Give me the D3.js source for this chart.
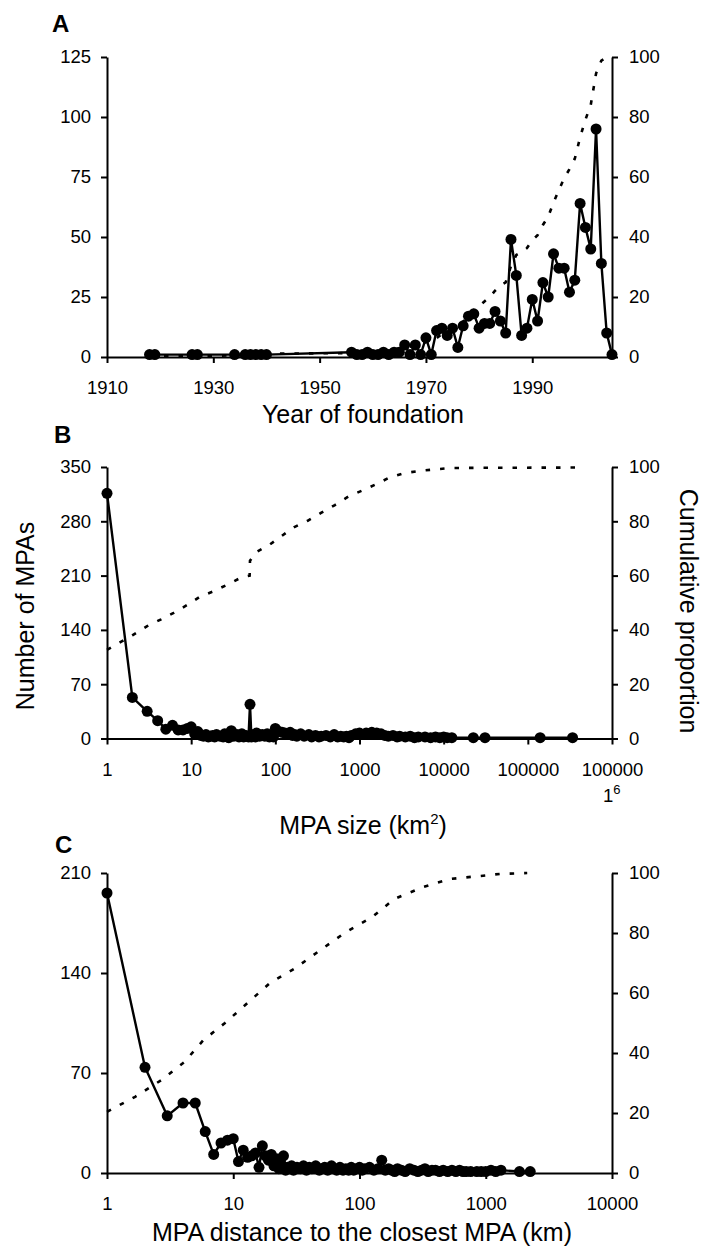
<!DOCTYPE html>
<meta charset="utf-8">
<style>
body { margin: 0; background: #fff; }
svg { font-family: "Liberation Sans", Arial, sans-serif; }
.axis { font-family: "Liberation Sans", Arial, sans-serif; }
.axis path, .axis line { stroke: #000; stroke-width: 2px; }
.axis text { font-size: 18.5px; fill: #000; }
.title { font-size: 25px; fill: #000; }
.letter { font-size: 24px; font-weight: bold; fill: #000; }
.count { fill: none; stroke: #000; stroke-width: 2.4px; stroke-linejoin: round; }
.cum { fill: none; stroke: #000; stroke-width: 2.6px; stroke-dasharray: 4.5 10; }
.dot { fill: #000; }
</style>
<body>
<script src="https://cdnjs.cloudflare.com/ajax/libs/d3/7.8.5/d3.min.js"></script>
<script>

// ---- panel A: year of foundation ----
var yearA = [1918,1919,1926,1927,1934,1936,1937,1938,1939,1940,
  1956,1957,1958,1959,1960,1961,1962,1963,1964,1965,
  1966,1967,1968,1969,1970,1971,1972,1973,1974,1975,
  1976,1977,1978,1979,1980,1981,1982,1983,1984,1985,
  1986,1987,1988,1989,1990,1991,1992,1993,1994,1995,
  1996,1997,1998,1999,2000,2001,2002,2003,2004,2005];
var countA = [1,1,1,1,1,1,1,1,1,1,
  2,1,1,2,1,1,2,1,2,2,
  5,1,5,1,8,1,11,12,9,12,
  4,13,17,18,12,14,14,19,15,10,
  49,34,9,12,24,15,31,25,43,37,
  37,27,32,64,54,45,95,39,10,1];
var cumA = [0.1,0.2,0.3,0.4,0.5,0.7,0.8,0.9,1.0,1.1,
  1.3,1.4,1.5,1.8,1.9,2.0,2.2,2.3,2.5,2.8,
  3.3,3.4,4.0,4.1,5.0,5.1,6.3,7.6,8.6,9.9,
  10.3,11.8,13.6,15.6,16.9,18.5,20.0,22.1,23.8,24.9,
  30.3,34.0,35.0,36.3,38.9,40.6,44.0,46.8,51.5,55.6,
  59.6,62.6,66.1,73.2,79.1,84.0,94.5,98.8,99.9,100];
var tickYearA = [1910,1930,1950,1970,1990];
var tickLeftA = [0,25,50,75,100,125];

// ---- panel B: MPA size ----
var sizeB = [1,2,3,4,5,6,7,8,9,10,11,12,13,14,15,16,17,18,19,20,
  22,24,25,27,28,30,32,35,37,40,42,45,48,50,52,55,58,60,65,70,
  75,80,85,90,95,100,110,120,130,140,150,160,170,180,200,220,250,270,300,330,
  350,400,450,500,550,600,650,700,750,800,900,1000,1100,1200,1300,1400,1500,1600,1700,1800,
  2000,2200,2500,2800,3000,3500,4000,4500,5000,6000,7000,8000,9000,10000,11000,12500,
  22500,31000,140000,340000];
var countB = [316,53,35,23,12,17,11,11,13,15,6,9,4,3,5,2,3,4,2,5,
  3,2,6,2,1,10,3,5,2,6,2,4,2,44,2,5,2,7,3,5,
  3,6,2,4,2,13,9,8,7,6,8,4,5,3,6,3,5,2,4,2,
  3,4,2,5,2,3,2,3,1,4,6,7,5,7,6,8,6,7,5,6,
  4,3,4,2,3,2,3,1,2,2,1,2,1,2,1,1,
  1,1,1,1];
var cumSizeB = [1,2,3,4.4,6.2,9,12.7,18.7,27.4,40,49.5,50,59,84.5,119,166,242,353,510,735,
  1110,1590,2300,3380,5240,7900,11700,25000,380000];
var cumB = [32.6,38,41.4,43.9,46.3,49.2,52.2,54.3,56.8,59.4,60,65.5,68.6,71.3,74.6,77.8,80.2,83.2,86,89.1,
  91.5,93.7,96.2,97.7,98.6,99.1,99.6,99.7,99.8];
var tickSizeB = [1,10,100,1000,10000,100000,1000000];
var tickLabelB = ["1","10","100","1000","10000","100000","100000"];
var tickLeftB = [0,70,140,210,280,350];

// ---- panel C: distance to closest MPA ----
var distC = [1,2,3,4,5,6,7,8,9,10,11,12,13,14,15,16,17,18,19,20,
  21,22,23,24,25,26,27,28,29,30,32,34,36,38,40,42,45,48,50,53,
  56,60,63,66,70,74,78,82,86,90,95,100,105,110,120,130,140,150,160,170,
  180,190,200,215,230,250,270,290,310,330,350,375,400,430,460,500,540,580,620,660,
  700,760,850,920,1000,1100,1200,1320,1850,2250];
var countC = [196,74,40,49,49,29,13,21,23,24,8,16,11,12,14,4,19,12,9,13,
  5,10,3,6,12,2,4,3,5,2,4,3,5,2,4,3,5,2,3,4,
  2,5,3,2,4,2,3,2,4,2,3,4,2,3,4,2,3,9,2,3,
  2,1,3,2,1,3,2,1,2,3,1,2,2,1,2,1,2,1,2,1,
  1,1,1,1,1,2,1,2,1,1];
var cumDistC = [1,1.67,2.7,4.1,5.8,8.6,13,19.5,31,49,78,126,188,318,520,900,1300,2130];
var cumC = [20.4,25.4,31,37,44.3,50,56.7,63.3,68.3,74.3,80.3,85.3,91.3,95.3,98,99,99.7,100];
var tickDistC = [1,10,100,1000,10000];
var tickLeftC = [0,70,140,210];

var tickRight = [0,20,40,60,80,100];

var width = 702, height = 1249;
var xRange = [107, 612];

var svg = d3.select("body").append("svg")
    .attr("width", width)
    .attr("height", height);

function drawPanel(o) {
    var x = o.log ? d3.scaleLog().domain(o.xDomain).range(xRange)
                  : d3.scaleLinear().domain(o.xDomain).range(xRange);
    var yL = d3.scaleLinear().domain([0, o.yMax]).range(o.yRange);
    var yR = d3.scaleLinear().domain([0, 100]).range(o.yRange);

    // axes
    svg.append("g").attr("class", "axis")
        .attr("transform", "translate(0," + o.yRange[0] + ")")
        .call(d3.axisBottom(x).tickValues(o.xTicks)
            .tickFormat(function(d, i) { return o.xLabels[i]; })
            .tickSize(6).tickSizeOuter(0).tickPadding(18));
    svg.append("g").attr("class", "axis")
        .attr("transform", "translate(" + xRange[0] + ",0)")
        .call(d3.axisLeft(yL).tickValues(o.yTicks)
            .tickSize(6).tickSizeOuter(0).tickPadding(10));
    svg.append("g").attr("class", "axis")
        .attr("transform", "translate(" + xRange[1] + ",0)")
        .call(d3.axisRight(yR).tickValues(tickRight)
            .tickSize(6).tickSizeOuter(0).tickPadding(11));

    // cumulative proportion, dotted
    var cumLine = d3.line()
        .x(function(d) { return x(d[0]); })
        .y(function(d) { return yR(d[1]); });
    svg.append("path").attr("class", "cum")
        .attr("d", cumLine(d3.zip(o.cumX, o.cumY)));

    // counts, solid with markers
    var pts = d3.zip(o.x, o.y);
    var line = d3.line()
        .x(function(d) { return x(d[0]); })
        .y(function(d) { return yL(d[1]); });
    svg.append("path").attr("class", "count").attr("d", line(pts));
    svg.append("g").selectAll("circle")
        .data(pts)
      .enter().append("circle")
        .attr("class", "dot")
        .attr("cx", function(d) { return x(d[0]); })
        .attr("cy", function(d) { return yL(d[1]); })
        .attr("r", 5.5);

    svg.append("text").attr("class", "letter")
        .attr("x", o.letterX).attr("y", o.letterY).text(o.letter);

    return x;
}

drawPanel({
    letter: "A", letterX: 52, letterY: 32,
    xDomain: [1910, 2005], log: false,
    xTicks: tickYearA, xLabels: tickYearA,
    yMax: 125, yRange: [357, 57], yTicks: tickLeftA,
    x: yearA, y: countA, cumX: yearA, cumY: cumA
});
svg.append("text").attr("class", "title")
    .attr("x", 363).attr("y", 423).attr("text-anchor", "middle")
    .text("Year of foundation");

drawPanel({
    letter: "B", letterX: 54, letterY: 443,
    xDomain: [1, 1000000], log: true,
    xTicks: tickSizeB, xLabels: tickLabelB,
    yMax: 350, yRange: [738.5, 467], yTicks: tickLeftB,
    x: sizeB, y: countB, cumX: cumSizeB, cumY: cumB
});
var sup = svg.append("text").attr("class", "axis")
    .attr("x", 603).attr("y", 802).style("font-size", "18.5px");
sup.append("tspan").text("1");
sup.append("tspan").attr("dy", -8).style("font-size", "13px").text("6");

var tb = svg.append("text").attr("class", "title")
    .attr("x", 363).attr("y", 834).attr("text-anchor", "middle");
tb.append("tspan").text("MPA size (km");
tb.append("tspan").attr("dy", -10).style("font-size", "15px").text("2");
tb.append("tspan").attr("dy", 10).text(")");

svg.append("text").attr("class", "title")
    .attr("transform", "translate(34,616) rotate(-90)")
    .attr("text-anchor", "middle")
    .text("Number of MPAs");
svg.append("text").attr("class", "title")
    .attr("transform", "translate(680,611) rotate(90)")
    .attr("text-anchor", "middle")
    .text("Cumulative proportion");

drawPanel({
    letter: "C", letterX: 55, letterY: 853,
    xDomain: [1, 10000], log: true,
    xTicks: tickDistC, xLabels: tickDistC,
    yMax: 210, yRange: [1173, 873], yTicks: tickLeftC,
    x: distC, y: countC, cumX: cumDistC, cumY: cumC
});
svg.append("text").attr("class", "title")
    .attr("x", 362).attr("y", 1241).attr("text-anchor", "middle")
    .text("MPA distance to the closest MPA (km)");

</script>
</body>
